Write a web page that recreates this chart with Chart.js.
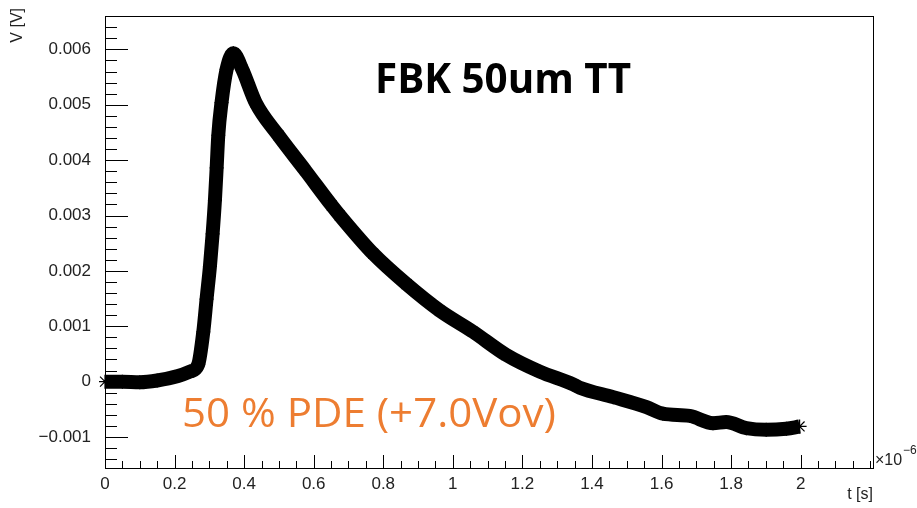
<!DOCTYPE html>
<html>
<head>
<meta charset="utf-8">
<script src="https://cdn.jsdelivr.net/npm/chart.js@4"></script>
<style>
  html, body { margin: 0; padding: 0; background: #fff; }
  #wrap { width: 917px; height: 508px; }
</style>
</head>
<body>
<div id="wrap"><canvas id="pulseChart" width="917" height="508"></canvas></div>
<script>
// time in units of 1e-6 s, voltage in V
const timeValues = [0, 0.05, 0.1, 0.15, 0.21, 0.244, 0.268, 0.2826, 0.292, 0.3017, 0.3094, 0.316, 0.321,
  0.3257, 0.335, 0.3496, 0.369, 0.3946, 0.433, 0.498, 0.575, 0.652, 0.675, 0.771, 0.867, 0.963,
  1.058, 1.154, 1.25, 1.346, 1.365, 1.461, 1.557, 1.604, 1.681, 1.748, 1.786, 1.844, 1.901, 1.959, 1.997];
const voltValues = [0.0, 0.0, -0.00001, 0.00002, 0.0001, 0.00018, 0.00031, 0.0009, 0.00149, 0.00208, 0.00267, 0.00327, 0.00386,
  0.00445, 0.00504, 0.00564, 0.00593, 0.00564, 0.00504, 0.00445, 0.00382, 0.00318, 0.00300, 0.00231, 0.00176, 0.00128,
  0.0009, 0.00048, 0.00018, -0.00005, -0.00011, -0.00028, -0.00046, -0.00058, -0.00062, -0.00075, -0.00073, -0.00084, -0.00087, -0.00085, -0.00081];

const xTicks = [0, 0.2, 0.4, 0.6, 0.8, 1, 1.2, 1.4, 1.6, 1.8, 2];
const yTicks = [-0.001, 0, 0.001, 0.002, 0.003, 0.004, 0.005, 0.006];
const xMinorStep = 0.05;
const yMinorStep = 0.0002;

const titleText = "FBK 50um TT";
const noteText = "50 % PDE (+7.0Vov)";

// inward ROOT-style ticks, frame and annotations
const rootFrame = {
  id: "rootFrame",
  afterDraw(chart) {
    const ctx = chart.ctx;
    const a = chart.chartArea;
    const xs = chart.scales.x, ys = chart.scales.y;
    ctx.save();
    ctx.strokeStyle = "#000";
    ctx.lineWidth = 1;
    ctx.strokeRect(Math.round(a.left) + 0.5, Math.round(a.top) + 0.5, Math.round(a.right - a.left), Math.round(a.bottom - a.top));

    ctx.beginPath();
    for (let v = 0; v <= xs.max + 1e-9; v += xMinorStep) {
      const px = Math.round(xs.getPixelForValue(v)) + 0.5;
      const major = xTicks.some(t => Math.abs(t - v) < 1e-6);
      ctx.moveTo(px, a.bottom);
      ctx.lineTo(px, a.bottom - (major ? 13 : 7));
    }
    for (let v = -0.0014; v <= ys.max + 1e-12; v += yMinorStep) {
      const py = Math.round(ys.getPixelForValue(v)) + 0.5;
      const major = yTicks.some(t => Math.abs(t - v) < 1e-9);
      ctx.moveTo(a.left, py);
      ctx.lineTo(a.left + (major ? 23 : 12), py);
    }
    ctx.stroke();

    // text helpers
    const fitText = (txt, font, color, left, base, width) => {
      ctx.font = font;
      ctx.fillStyle = color;
      ctx.textAlign = "left";
      ctx.textBaseline = "alphabetic";
      const w = ctx.measureText(txt).width;
      ctx.save();
      ctx.translate(left, base);
      ctx.scale(width / w, 1);
      ctx.fillText(txt, 0, 0);
      ctx.restore();
    };
    fitText(titleText, "bold 42px 'Open Sans'", "#000", 375, 93, 256);
    fitText(noteText, "40px 'Open Sans'", "#ED7D31", 182, 427, 374);

    ctx.fillStyle = "#222";
    ctx.font = "16px 'Liberation Sans'";
    ctx.textBaseline = "middle";
    ctx.textAlign = "right";
    ctx.fillText("t [s]", 873, 495);
    ctx.textAlign = "left";
    ctx.fillText("\u00d710", 875, 461);
    ctx.font = "12px 'Liberation Sans'";
    ctx.fillText("\u22126", 903, 451);

    ctx.save();
    ctx.translate(18, 8);
    ctx.rotate(-Math.PI / 2);
    ctx.font = "16px 'Liberation Sans'";
    ctx.textAlign = "right";
    ctx.fillText("V [V]", 0, 0);
    ctx.restore();
    ctx.restore();
  }
};

const points = timeValues.map((t, i) => ({ x: t, y: voltValues[i] }));

new Chart(document.getElementById("pulseChart"), {
  type: "scatter",
  data: {
    datasets: [{
      data: points,
      showLine: true,
      borderColor: "#000",
      borderWidth: 14,
      borderJoinStyle: "round",
      cubicInterpolationMode: "monotone",
      pointStyle: "star",
      pointRadius: 7,
      pointBorderWidth: 1.2,
      pointBorderColor: "#000",
      pointBackgroundColor: "#000",
      clip: 6
    }]
  },
  options: {
    responsive: false,
    animation: false,
    events: [],
    layout: { padding: { left: 0, top: 9, right: 44, bottom: 0 } },
    plugins: { legend: { display: false }, tooltip: { enabled: false } },
    scales: {
      x: {
        type: "linear",
        min: 0,
        max: 2.208,
        grid: { display: false },
        border: { display: false },
        afterBuildTicks: s => { s.ticks = xTicks.map(v => ({ value: v })); },
        afterFit: s => { s.height = 40; },
        ticks: {
          color: "#222",
          padding: -2,
          maxRotation: 0,
          autoSkip: false,
          font: { family: "'Liberation Sans'", size: 17 },
          callback: v => String(Math.round(v * 10) / 10)
        }
      },
      y: {
        type: "linear",
        min: -0.00156,
        max: 0.0066,
        grid: { display: false },
        border: { display: false },
        afterBuildTicks: s => { s.ticks = yTicks.map(v => ({ value: v })); },
        afterFit: s => { s.width = 105; },
        ticks: {
          color: "#222",
          padding: 6,
          autoSkip: false,
          font: { family: "'Liberation Sans'", size: 17 },
          callback: v => {
            const r = Math.round(v * 1000) / 1000;
            if (r === 0) return "0";
            return (r < 0 ? "\u2212" : "") + Math.abs(r).toFixed(3);
          }
        }
      }
    }
  },
  plugins: [rootFrame]
});
</script>
</body>
</html>
